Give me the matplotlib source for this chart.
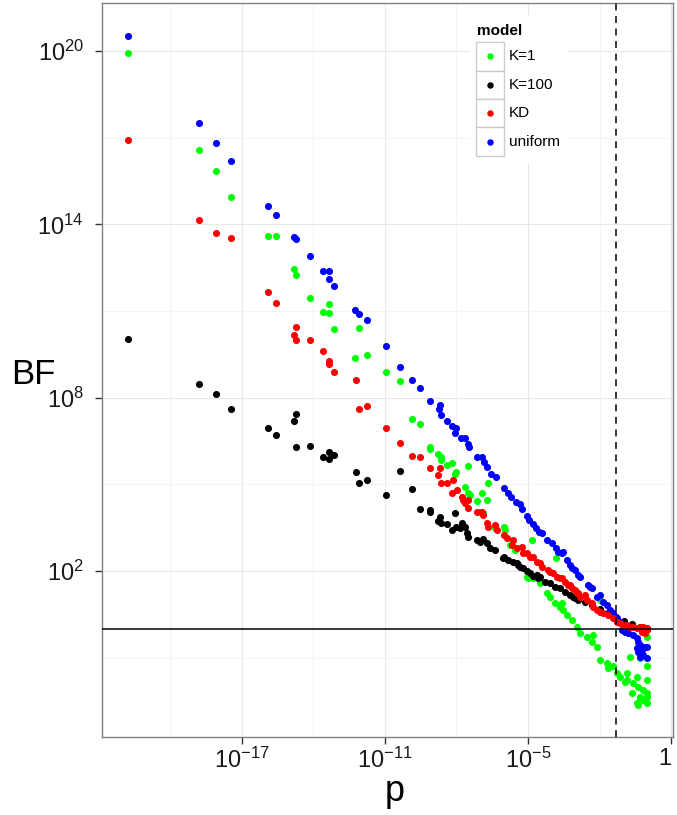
import numpy as np
import matplotlib
matplotlib.use('Agg')
import matplotlib.pyplot as plt
from matplotlib.patches import Rectangle
from matplotlib.lines import Line2D

plt.rcParams['font.family'] = ['Liberation Sans', 'DejaVu Sans']
plt.rcParams['mathtext.fontset'] = 'custom'
plt.rcParams['mathtext.rm'] = 'Liberation Sans'
plt.rcParams['mathtext.it'] = 'Liberation Sans:italic'
plt.rcParams['mathtext.bf'] = 'Liberation Sans:bold'

models = ['K=1', 'K=100', 'KD', 'uniform']
colours = {'K=1': '#00ff00', 'K=100': '#000000', 'KD': '#ff0000', 'uniform': '#0000ff'}

# values as log10(p) / log10(BF)
k1_logp = [-21.77, -18.78, -18.06, -17.43, -15.88, -15.56, -14.81, -14.72, -14.15, -13.36,
           -13.61, -13.35, -13.12, -12.09, -12.24, -11.75, -10.97, -10.35, -9.87, -9.52,
           -9.11, -9.11, -8.76, -8.66, -8.65, -8.41, -8.20, -8.02, -8.06, -7.53,
           -7.64, -7.51, -7.44, -7.15, -6.95, -6.74, -6.69, -7.02, -6.88, -6.39,
           -6.00, -5.97, -5.76, -5.55, -4.85, -3.83, -5.06, -4.99, -4.85, -4.50,
           -4.22, -4.08, -3.87, -3.67, -3.38, -3.18, -2.97, -2.83, -2.55, -2.27,
           -2.13, -1.99, -1.71, -1.43, -1.29, -1.15, -0.87, -0.59, -0.39, -0.18,
           -0.03, -0.31, -0.45, -0.03, -0.87, -0.45, -0.03, -0.73, -0.01, -3.59,
           -2.34, -1.64, -0.94, -0.66, -0.31, -0.18, -0.39, -0.03, -1.99, -0.31,
           -0.03, -4.78, -3.53]
k1_logbf = [19.94, 16.57, 15.84, 14.94, 13.61, 13.60, 12.45, 12.25, 11.44, 11.26,
            10.97, 10.92, 10.38, 10.40, 9.39, 9.49, 8.90, 8.57, 7.26, 7.09,
            6.31, 6.22, 6.06, 5.96, 5.85, 5.67, 5.73, 5.44, 5.36, 5.65,
            4.92, 4.70, 4.64, 4.43, 4.72, 4.46, 5.04, 4.06, 4.00, 3.48,
            3.54, 3.43, 2.91, 2.73, 3.06, 2.45, 1.81, 1.75, 1.81, 1.58,
            1.24, 1.12, 0.89, 0.77, 0.48, 0.31, 0.08, -0.15, -0.27, -0.21,
            -0.61, -1.07, -1.19, -1.30, -1.53, -1.65, -1.76, -1.88, -2.00, -2.11,
            -2.34, -2.34, -2.57, -2.57, -1.53, -1.65, -1.76, -0.96, -0.27, 0.89,
            -0.44, -1.36, -1.82, -2.23, -2.40, -2.46, -2.63, -2.23, 1.00, -1.01,
            -1.30, 1.75, 0.66]

k100_logp = [-21.77, -18.78, -18.06, -17.43, -15.88, -15.56, -14.81, -14.72, -14.72, -14.15,
             -13.61, -13.35, -13.35, -13.12, -12.22, -12.09, -11.75, -10.97, -10.35, -9.87,
             -9.52, -9.11, -9.11, -8.69, -8.76, -8.65, -8.41, -8.20, -8.06, -8.02,
             -7.85, -7.78, -7.64, -7.57, -7.51, -7.15, -7.02, -6.88, -6.74, -6.60,
             -6.39, -6.04, -6.00, -5.83, -5.62, -5.48, -5.41, -5.34, -5.20, -5.06,
             -4.92, -4.78, -4.64, -4.57, -4.50, -4.29, -4.08, -3.87, -3.67, -3.46,
             -3.25, -3.11, -3.04, -2.90, -2.62, -2.33, -1.99, -1.65, -1.32, -0.98,
             -0.65, -0.31, -0.06]
k100_logbf = [10.04, 8.47, 8.13, 7.60, 6.96, 6.72, 7.21, 7.43, 6.30, 6.34,
              5.94, 6.13, 5.87, 6.03, 5.42, 5.04, 5.16, 4.65, 5.48, 4.84,
              4.15, 4.12, 4.04, 3.89, 3.75, 3.68, 3.63, 3.43, 4.02, 3.54,
              3.48, 3.66, 3.54, 3.31, 3.19, 3.08, 3.02, 3.10, 2.97, 2.79,
              2.73, 2.45, 2.50, 2.39, 2.30, 2.27, 2.21, 2.16, 2.10, 2.01,
              1.93, 1.83, 1.87, 1.75, 1.81, 1.64, 1.58, 1.46, 1.41, 1.29,
              1.18, 1.12, 1.06, 1.00, 0.94, 0.83, 0.69, 0.55, 0.42, 0.28,
              0.17, 0.07, 0.00]

kd_logp = [-21.77, -18.78, -18.06, -17.43, -15.88, -15.56, -14.72, -14.81, -14.72, -14.15,
           -13.61, -13.35, -13.35, -13.12, -12.22, -12.09, -11.75, -10.97, -10.35, -9.87,
           -9.52, -9.11, -8.69, -8.76, -8.65, -8.41, -8.14, -8.20, -7.99, -7.78,
           -7.72, -7.51, -7.64, -7.53, -7.15, -6.95, -6.88, -6.74, -6.67, -6.39,
           -6.32, -6.00, -5.90, -5.69, -5.62, -5.48, -5.27, -5.20, -5.06, -4.92,
           -4.78, -4.64, -4.50, -4.43, -4.16, -4.08, -3.95, -3.80, -3.67, -3.59,
           -3.46, -3.32, -3.25, -3.18, -3.04, -2.97, -2.90, -2.83, -2.55, -2.34,
           -2.27, -2.13, -1.99, -1.85, -1.64, -1.43, -1.29, -1.15, -1.01, -0.87,
           -0.73, -0.59, -0.45, -0.31, -0.18, -0.03, -0.01, -0.24, -0.10, -2.62]
kd_logbf = [16.93, 14.15, 13.70, 13.54, 11.66, 11.27, 10.46, 10.16, 10.00, 9.99,
            9.63, 9.26, 9.17, 8.89, 8.61, 7.62, 7.71, 6.94, 6.45, 6.00,
            5.94, 5.58, 5.58, 5.33, 5.04, 5.04, 5.16, 4.70, 4.81, 4.58,
            4.46, 4.46, 4.35, 4.18, 4.06, 4.06, 3.94, 3.66, 3.54, 3.60,
            3.43, 3.25, 3.14, 2.91, 3.08, 2.79, 2.85, 2.62, 2.62, 2.50,
            2.50, 2.33, 2.27, 2.16, 2.04, 1.98, 1.93, 1.81, 1.75, 1.75,
            1.64, 1.52, 1.52, 1.41, 1.35, 1.24, 1.24, 1.12, 1.00, 0.89,
            0.77, 0.66, 0.60, 0.54, 0.48, 0.37, 0.25, 0.20, 0.14, 0.14,
            0.08, 0.08, 0.02, 0.08, 0.08, -0.03, 0.02, -0.09, -0.15, 1.18]

unif_logp = [-21.77, -18.78, -18.06, -17.43, -15.88, -15.56, -14.81, -14.72, -14.15, -13.61,
             -13.35, -13.35, -13.12, -12.24, -12.09, -11.75, -10.97, -10.35, -9.87, -9.52,
             -9.11, -8.69, -8.73, -8.65, -8.41, -8.20, -8.02, -8.06, -7.81, -7.63,
             -7.53, -7.47, -7.15, -6.95, -6.84, -6.74, -6.56, -6.36, -6.00, -5.86,
             -5.72, -5.51, -5.34, -5.24, -5.06, -4.96, -4.81, -4.67, -4.53, -4.43,
             -4.22, -4.01, -3.85, -3.74, -3.59, -3.53, -3.38, -3.25, -3.18, -3.04,
             -2.90, -2.83, -2.48, -2.41, -2.34, -2.13, -1.99, -1.85, -1.71, -1.57,
             -1.43, -1.29, -1.15, -1.08, -0.94, -0.80, -0.59, -0.45, -0.39, -0.31,
             -0.45, -0.24, -0.10, -0.01, -0.39, -0.18, -0.01, -0.31]
unif_logbf = [20.53, 17.52, 16.81, 16.19, 14.65, 14.31, 13.55, 13.48, 12.91, 12.39,
              12.39, 12.11, 11.87, 11.04, 10.91, 10.69, 9.78, 9.05, 8.61, 8.33,
              7.88, 7.75, 7.60, 7.40, 7.21, 7.01, 6.96, 6.79, 6.60, 6.59,
              6.40, 6.31, 5.96, 5.94, 5.79, 5.62, 5.35, 5.27, 4.89, 4.72,
              4.58, 4.38, 4.33, 4.15, 3.91, 3.77, 3.63, 3.48, 3.37, 3.31,
              3.08, 2.97, 2.79, 2.67, 2.62, 2.67, 2.39, 2.21, 2.10, 2.04,
              1.87, 1.81, 1.52, 1.46, 1.41, 1.12, 1.18, 0.94, 0.83, 0.66,
              0.54, 0.37, 0.25, -0.03, -0.09, -0.15, -0.21, -0.32, -0.44, -0.55,
              -0.67, -0.73, -0.61, -0.61, -0.79, -0.90, -1.01, -0.96]

series = {
    'K=1': (k1_logp, k1_logbf),
    'K=100': (k100_logp, k100_logbf),
    'KD': (kd_logp, kd_logbf),
    'uniform': (unif_logp, unif_logbf),
}

fig = plt.figure(figsize=(6.77, 8.15), dpi=100)
ax = fig.add_axes([102 / 677, 78 / 815, 571 / 677, 734 / 815])

# drawing order so that red sits on top like the original
for m in ['K=1', 'K=100', 'uniform', 'KD']:
    lp, lb = series[m]
    ax.scatter(10 ** np.array(lp), 10 ** np.array(lb), s=26, c=colours[m],
               linewidths=0, zorder=3)

ax.axhline(1, color='black', lw=1.1, zorder=4)
ax.axvline(0.05, color='black', lw=1.1, dashes=(4.5, 3.7), zorder=4)

ax.set_xscale('log')
ax.set_yscale('log')
ax.set_xlim(10 ** -22.85, 10 ** 1.07)
ax.set_ylim(10 ** -3.74, 10 ** 21.66)

ax.set_xticks([1e-17, 1e-11, 1e-5, 1e1])
ax.set_xticklabels(['$10^{-17}$', '$10^{-11}$', '$10^{-5}$', '1'])
ax.set_xticks([1e-20, 1e-14, 1e-8, 1e-2], minor=True)
ax.set_yticks([1e2, 1e8, 1e14, 1e20])
ax.set_yticklabels(['$10^{2}$', '$10^{8}$', '$10^{14}$', '$10^{20}$'])
ax.set_yticks([1e-1, 1e5, 1e11, 1e17], minor=True)
ax.xaxis.set_minor_formatter(plt.NullFormatter())
ax.yaxis.set_minor_formatter(plt.NullFormatter())

ax.tick_params(which='major', length=5, width=1, color='#333333',
               labelsize=17, labelcolor='#1a1a1a')
ax.tick_params(axis='x', which='major', pad=3)
ax.tick_params(axis='y', which='major', pad=8)
ax.tick_params(which='minor', length=0)
# the last label sits on the right border, keep it inside the picture
ax.get_xticklabels()[-1].set_horizontalalignment('right')

ax.grid(which='major', color='#e8e8e8', lw=0.8)
ax.grid(which='minor', color='#f4f4f4', lw=0.8)
ax.set_axisbelow(True)
for sp in ax.spines.values():
    sp.set_color('#808080')
    sp.set_linewidth(1)

fig.text(33 / 677, 1 - 384 / 815, 'BF', fontsize=25, ha='center', va='baseline')
fig.text(395 / 677, 1 - 801 / 815, 'p', fontsize=26, ha='center', va='baseline')

# legend, ggplot style with boxed keys
fig.patches.append(Rectangle((470 / 677, 1 - 163 / 815), 97 / 677, 148 / 815,
                             transform=fig.transFigure, facecolor='white',
                             edgecolor='none', zorder=5))
fig.text(476.5 / 677, 1 - 31 / 815, 'model', fontsize=11, fontweight='bold',
         ha='left', va='center', zorder=6)
row_h = 28.35
for i, m in enumerate(models):
    top = 42.3 + i * row_h
    fig.patches.append(Rectangle((476 / 677, 1 - (top + row_h) / 815), 28 / 677, row_h / 815,
                                 transform=fig.transFigure, facecolor='white',
                                 edgecolor='#cccccc', lw=1, zorder=6))
    cy = 1 - (top + row_h / 2) / 815
    fig.lines.append(Line2D([490 / 677], [cy], marker='o', markersize=3.6,
                            color=colours[m], linestyle='none',
                            transform=fig.transFigure, zorder=7))
    fig.text(508.5 / 677, cy, m, fontsize=11, ha='left', va='center', zorder=7)

fig.savefig('out.png', dpi=100)
